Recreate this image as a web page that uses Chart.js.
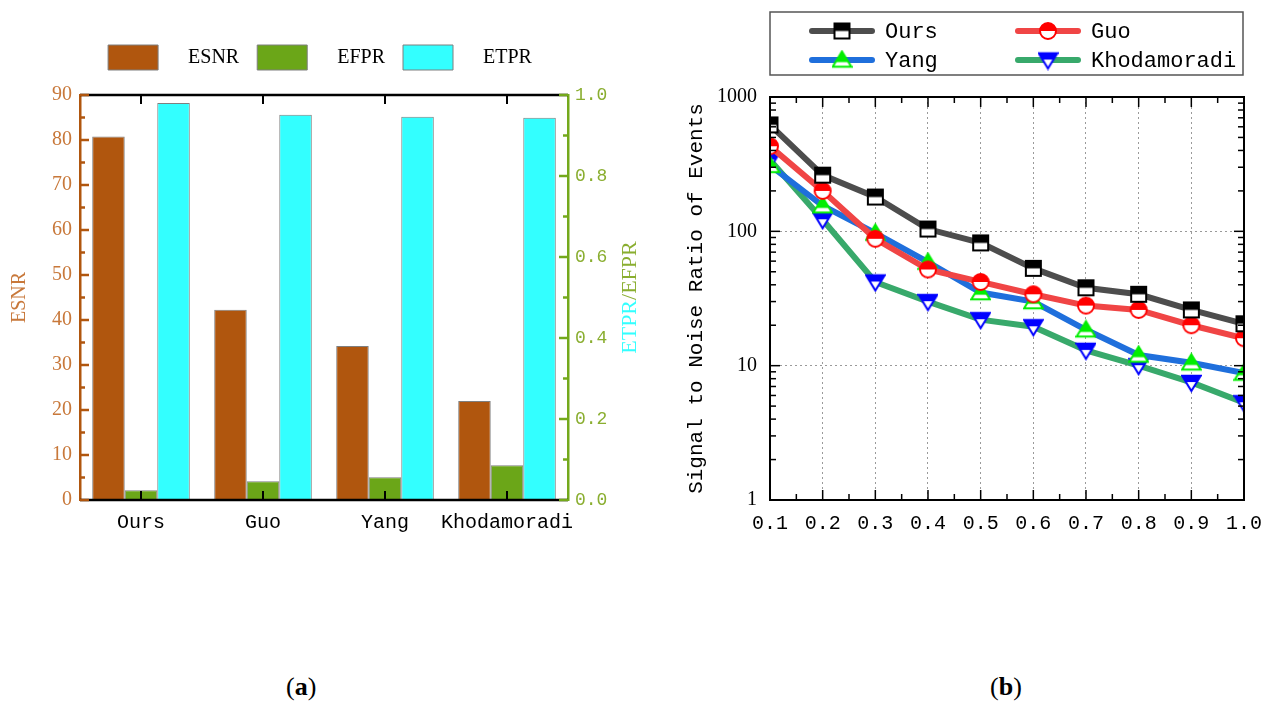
<!DOCTYPE html>
<html>
<head>
<meta charset="utf-8">
<title>ESNR / SNR comparison</title>
<script src="https://cdn.jsdelivr.net/npm/chart.js@4.4.0/dist/chart.umd.min.js"></script>
<style>
  body { margin: 0; background: #fff; width: 1274px; height: 706px; position: relative; overflow: hidden; }
  #barChart { position: absolute; left: 0; top: 0; }
  #snrChart { position: absolute; left: 640px; top: 0; }
  .cap { position: absolute; top: 672px; font: 26px "Liberation Serif"; color: #000; }
</style>
</head>
<body>
<canvas id="barChart" width="640" height="560"></canvas>
<canvas id="snrChart" width="634" height="560"></canvas>
<div class="cap" style="left:286px">(<b>a</b>)</div>
<div class="cap" style="left:990px">(<b>b</b>)</div>
<script>
// (a) bar chart values
const methods = ["Ours", "Guo", "Yang", "Khodamoradi"];
const esnr = [80.8, 42.3, 34.2, 22.0];
const efpr = [0.024, 0.046, 0.056, 0.086];
const etpr = [0.980, 0.951, 0.946, 0.944];

// (b) signal to noise ratio of events
const ratios = [0.1, 0.2, 0.3, 0.4, 0.5, 0.6, 0.7, 0.8, 0.9, 1.0];
const snrOurs = [620, 262, 180, 104, 82, 53, 38, 34, 26, 20.5];
const snrGuo = [430, 200, 88, 52, 42, 34, 28, 26, 20, 16];
const snrYang = [310, 155, 97, 59, 35, 30, 18.5, 12, 10.5, 8.8];
const snrKhod = [340, 122, 42, 30, 22, 19.5, 13, 10, 7.5, 5.3];
const snrTicks = [1, 10, 100, 1000];

const mono = "Liberation Mono";
const serif = "Liberation Serif";
const orange = "#B0560E";
const orangeText = "#C8783A";
const green = "#74A91C";
const greenText = "#8AAE30";

Chart.defaults.font.family = serif;
Chart.defaults.color = "#000";

function seg(ctx, x1, y1, x2, y2) {
  ctx.beginPath();
  ctx.moveTo(x1, y1);
  ctx.lineTo(x2, y2);
  ctx.stroke();
}

// frame, inward ticks and two-coloured right title for (a)
const barFrame = {
  id: "barFrame",
  afterDatasetsDraw(chart) {
    const { ctx, chartArea: a, scales } = chart;
    ctx.save();
    ctx.strokeStyle = "#000";
    ctx.lineWidth = 2.5;
    seg(ctx, a.left, a.top, a.right, a.top);
    seg(ctx, a.left, a.bottom, a.right, a.bottom);
    ctx.lineWidth = 2;
    methods.forEach((m, i) => {
      const x = scales.x.getPixelForValue(i);
      seg(ctx, x, a.top, x, a.top + 9);
      seg(ctx, x, a.bottom, x, a.bottom - 9);
    });
    ctx.strokeStyle = orange;
    ctx.lineWidth = 2.5;
    for (let v = 0; v <= 90; v += 5) {
      const y = scales.y.getPixelForValue(v);
      seg(ctx, a.left, y, a.left + (v % 10 === 0 ? 9 : 5), y);
    }
    ctx.strokeStyle = green;
    for (let k = 0; k <= 10; k++) {
      const y = scales.y1.getPixelForValue(k / 10);
      seg(ctx, a.right, y, a.right - (k % 2 === 0 ? 9 : 5), y);
    }
    // "ETPR/EFPR" title
    ctx.font = "22px '" + serif + "'";
    ctx.textBaseline = "middle";
    const p1 = "ETPR", p2 = "/EFPR";
    const w1 = ctx.measureText(p1).width, w2 = ctx.measureText(p2).width;
    ctx.translate(630, (a.top + a.bottom) / 2);
    ctx.rotate(-Math.PI / 2);
    ctx.textAlign = "left";
    ctx.fillStyle = "#33FFFF";
    ctx.fillText(p1, -(w1 + w2) / 2, 0);
    ctx.fillStyle = greenText;
    ctx.fillText(p2, -(w1 + w2) / 2 + w1, 0);
    ctx.restore();
  }
};

const barChart = new Chart(document.getElementById("barChart"), {
  type: "bar",
  data: {
    labels: methods,
    datasets: [
      { label: "ESNR", data: esnr, yAxisID: "y", backgroundColor: "#B0560E", borderColor: "#7f7f7f", borderWidth: 1 },
      { label: "EFPR", data: efpr, yAxisID: "y1", backgroundColor: "#6BA618", borderColor: "#7f7f7f", borderWidth: 1 },
      { label: "ETPR", data: etpr, yAxisID: "y1", backgroundColor: "#33FFFF", borderColor: "#7f7f7f", borderWidth: 1 },
    ],
  },
  options: {
    responsive: false,
    animation: false,
    categoryPercentage: 0.8,
    barPercentage: 1.0,
    layout: { padding: { top: 27, left: 0, right: 0, bottom: 0 } },
    plugins: {
      tooltip: { enabled: false },
      legend: {
        position: "top",
        labels: {
          boxWidth: 50,
          boxHeight: 25,
          padding: 18,
          color: "#000",
          font: { family: serif, size: 20 },
          generateLabels(chart) {
            return Chart.defaults.plugins.legend.labels.generateLabels(chart).map(item => {
              item.text = "    " + item.text;
              item.strokeStyle = "#7f7f7f";
              item.lineWidth = 1;
              return item;
            });
          },
        },
      },
    },
    scales: {
      x: {
        grid: { display: false, drawTicks: false },
        border: { display: false },
        ticks: { color: "#000", font: { family: mono, size: 20 }, padding: 11, autoSkip: false, maxRotation: 0, minRotation: 0 },
        afterFit(s) { s.height = 60; },
      },
      xTop: {
        type: "category",
        position: "top",
        labels: methods,
        grid: { display: false, drawTicks: false },
        border: { display: false },
        ticks: { display: false },
        afterFit(s) { s.height = 15; },
      },
      y: {
        position: "left",
        min: 0,
        max: 90,
        ticks: { stepSize: 10, color: orangeText, font: { family: serif, size: 20 }, padding: 8 },
        grid: { display: false, drawTicks: false },
        border: { display: true, color: orange, width: 2.5 },
        title: { display: true, text: "ESNR", color: orangeText, font: { family: serif, size: 20 }, padding: { top: 8, bottom: 0 } },
        afterFit(s) { s.width = 80; },
      },
      y1: {
        position: "right",
        min: 0,
        max: 1,
        ticks: { stepSize: 0.2, color: greenText, font: { family: mono, size: 18 }, padding: 7, callback: v => v.toFixed(1) },
        grid: { display: false, drawTicks: false },
        border: { display: true, color: green, width: 2.5 },
        afterFit(s) { s.width = 72; },
      },
    },
  },
  plugins: [barFrame],
});

// half-filled markers
function marker(shape, color, size) {
  const c = document.createElement("canvas");
  const w = size + 4;
  c.width = w;
  c.height = w;
  const g = c.getContext("2d");
  const m = w / 2, r = size / 2;
  const path = () => {
    g.beginPath();
    if (shape === "square") {
      g.rect(m - r, m - r, size, size);
    } else if (shape === "circle") {
      g.arc(m, m, r, 0, Math.PI * 2);
    } else if (shape === "up") {
      g.moveTo(m, m - r);
      g.lineTo(m + r * 1.1, m + r * 0.8);
      g.lineTo(m - r * 1.1, m + r * 0.8);
      g.closePath();
    } else {
      g.moveTo(m, m + r);
      g.lineTo(m + r * 1.1, m - r * 0.8);
      g.lineTo(m - r * 1.1, m - r * 0.8);
      g.closePath();
    }
  };
  path();
  g.fillStyle = "#fff";
  g.fill();
  g.save();
  path();
  g.clip();
  g.fillStyle = color;
  const cut = shape === "up" ? m + r * 0.25 : shape === "down" ? m - r * 0.05 : m;
  g.fillRect(0, 0, w, cut);
  g.restore();
  path();
  g.lineWidth = 2;
  g.strokeStyle = color;
  g.stroke();
  return c;
}

const mkOurs = marker("square", "#000", 15);
const mkGuo = marker("circle", "#FF0000", 16);
const mkYang = marker("up", "#00EE00", 17);
const mkKhod = marker("down", "#0000FF", 17);

// frame, inward ticks and boxed legend for (b)
const snrFrame = {
  id: "snrFrame",
  afterDraw(chart) {
    const { ctx, chartArea: a, scales } = chart;
    ctx.save();
    ctx.strokeStyle = "#000";
    ctx.lineWidth = 2;
    ctx.strokeRect(a.left, a.top, a.right - a.left, a.bottom - a.top);
    ctx.lineWidth = 1.5;
    for (let k = 0; k < ratios.length; k++) {
      const x = scales.x.getPixelForValue(ratios[k]);
      seg(ctx, x, a.bottom, x, a.bottom - 10);
      seg(ctx, x, a.top, x, a.top + 10);
      if (k < ratios.length - 1) {
        const xm = scales.x.getPixelForValue((ratios[k] + ratios[k + 1]) / 2);
        seg(ctx, xm, a.bottom, xm, a.bottom - 6);
        seg(ctx, xm, a.top, xm, a.top + 6);
      }
    }
    snrTicks.forEach((d, i) => {
      const y = scales.y.getPixelForValue(d);
      seg(ctx, a.left, y, a.left + 10, y);
      seg(ctx, a.right, y, a.right - 10, y);
      if (i < snrTicks.length - 1) {
        for (let j = 2; j <= 9; j++) {
          const ym = scales.y.getPixelForValue(d * j);
          seg(ctx, a.left, ym, a.left + 6, ym);
          seg(ctx, a.right, ym, a.right - 6, ym);
        }
      }
    });
    // legend
    ctx.strokeStyle = "#555";
    ctx.lineWidth = 1.5;
    ctx.strokeRect(a.left, 12, a.right - a.left - 1, 63);
    ctx.font = "22px '" + mono + "'";
    ctx.textBaseline = "middle";
    ctx.textAlign = "left";
    chart.data.datasets.forEach((ds, i) => {
      const x0 = a.left + 42 + (i % 2) * 206;
      const y = 31 + Math.floor(i / 2) * 29;
      ctx.strokeStyle = ds.borderColor;
      ctx.lineWidth = 6;
      ctx.lineCap = "round";
      seg(ctx, x0, y, x0 + 60, y);
      const img = ds.pointStyle;
      ctx.drawImage(img, x0 + 30 - img.width / 2, y - img.height / 2);
      ctx.fillStyle = "#000";
      ctx.fillText(ds.label, x0 + 73, y + 1);
    });
    ctx.restore();
  }
};

function series(label, values, color, mk) {
  return {
    label,
    data: ratios.map((r, i) => ({ x: r, y: values[i] })),
    borderColor: color,
    borderWidth: 6,
    pointStyle: mk,
    pointRadius: 8,
    tension: 0,
    clip: 0,
  };
}

const snrChart = new Chart(document.getElementById("snrChart"), {
  type: "line",
  data: {
    datasets: [
      series("Ours", snrOurs, "#4D4D4D", mkOurs),
      series("Guo", snrGuo, "#F04545", mkGuo),
      series("Yang", snrYang, "#1F6FDC", mkYang),
      series("Khodamoradi", snrKhod, "#38A96B", mkKhod),
    ],
  },
  options: {
    responsive: false,
    animation: false,
    layout: { padding: { top: 97, left: 0, right: 16, bottom: 0 } },
    plugins: { legend: { display: false }, tooltip: { enabled: false } },
    scales: {
      x: {
        type: "linear",
        min: 0.1,
        max: 1.0,
        afterBuildTicks(s) { s.ticks = ratios.map(v => ({ value: v })); },
        ticks: { color: "#000", font: { family: mono, size: 20 }, padding: 12, maxRotation: 0, callback: v => v.toFixed(1) },
        grid: { color: "#9a9a9a", lineWidth: 1, drawTicks: false },
        border: { display: false, dash: [2, 3] },
        afterFit(s) { s.height = 60; },
      },
      y: {
        type: "logarithmic",
        min: 1,
        max: 1000,
        afterBuildTicks(s) { s.ticks = snrTicks.map(v => ({ value: v })); },
        ticks: { color: "#000", font: { family: serif, size: 20 }, padding: 13, callback: v => String(v) },
        grid: { color: "#9a9a9a", lineWidth: 1, drawTicks: false },
        border: { display: false, dash: [2, 3] },
        title: { display: true, text: "Signal to Noise Ratio of Events", color: "#000", font: { family: mono, size: 21 }, padding: { top: 44, bottom: 0 } },
        afterFit(s) { s.width = 130; },
      },
    },
  },
  plugins: [snrFrame],
});
</script>
</body>
</html>
